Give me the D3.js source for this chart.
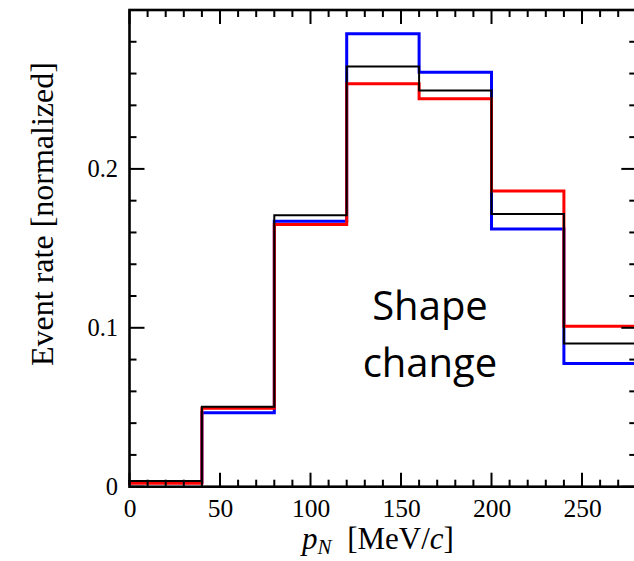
<!DOCTYPE html>
<html>
<head>
<meta charset="utf-8">
<script src="https://cdn.jsdelivr.net/npm/d3@7"></script>
<style>
  html, body { margin: 0; padding: 0; background: #fff; }
  svg { display: block; }
</style>
</head>
<body>
<svg id="chart" width="634" height="561"></svg>
<script>
// ---- data ----
const binEdges = [0, 40, 80, 120, 160, 200, 240, 280];
const blueValues  = [0.0028, 0.0465, 0.1670, 0.2850, 0.2609, 0.1622, 0.0776];
const redValues   = [0.0022, 0.0493, 0.1650, 0.2536, 0.2442, 0.1861, 0.1010];
const blackValues = [0.0036, 0.0503, 0.1708, 0.2645, 0.2494, 0.1716, 0.0901];
const xTickValues = [0, 50, 100, 150, 200, 250];
const yTickValues = [0, 0.1, 0.2];
const yTickLabels = ["0", "0.1", "0.2"];
const annotationLines = ["Shape", "change"];

// ---- layout ----
const svg = d3.select("#chart");
const pLeft = 129.5, pRight = 636.3, pTop = 10, pBottom = 486.7;
const x = d3.scaleLinear().domain([0, 280]).range([pLeft, pRight]);
const y = d3.scaleLinear().domain([0, 0.3]).range([pBottom, pTop]);

const serif = "'Liberation Serif', 'Times New Roman', serif";

// histogram step lines
function stepPoints(vals) {
  const pts = vals.map((v, i) => [binEdges[i], v]);
  pts.push([binEdges[binEdges.length - 1], vals[vals.length - 1]]);
  return pts;
}
const line = d3.line().x(d => x(d[0])).y(d => y(d[1])).curve(d3.curveStepAfter);

const series = [
  { vals: blueValues, color: "#0000ff", w: 3 },
  { vals: redValues, color: "#ff0000", w: 3 },
  { vals: blackValues, color: "#000000", w: 2 }
];
series.forEach(s => {
  svg.append("path")
    .attr("d", line(stepPoints(s.vals)))
    .attr("fill", "none")
    .attr("stroke", s.color)
    .attr("stroke-width", s.w)
    .attr("stroke-linejoin", "miter")
    .attr("stroke-linecap", "square");
});

// ---- axes (ticks inward, mirrored) ----
const xMajor = d3.range(0, 281, 50);
const xMinor = d3.range(0, 281, 10).filter(v => v % 50 !== 0);
const yMajor = [0, 0.1, 0.2, 0.3];
const yMinor = d3.range(0, 0.301, 0.02).filter(v => Math.abs(v * 10 - Math.round(v * 10)) > 1e-6);

const axG = svg.append("g").attr("stroke", "#000").attr("stroke-width", 2);
[[pBottom, -1], [pTop, 1]].forEach(([yy, dir]) => {
  xMajor.forEach(v => axG.append("line").attr("x1", x(v)).attr("x2", x(v)).attr("y1", yy).attr("y2", yy + dir * 14));
  xMinor.forEach(v => axG.append("line").attr("x1", x(v)).attr("x2", x(v)).attr("y1", yy).attr("y2", yy + dir * 7));
});
[[pLeft, 1], [pRight, -1]].forEach(([xx, dir]) => {
  yMajor.forEach(v => axG.append("line").attr("y1", y(v)).attr("y2", y(v)).attr("x1", xx).attr("x2", xx + dir * 15));
  yMinor.forEach(v => axG.append("line").attr("y1", y(v)).attr("y2", y(v)).attr("x1", xx).attr("x2", xx + dir * 7));
});
svg.append("rect")
  .attr("x", pLeft).attr("y", pTop)
  .attr("width", pRight - pLeft).attr("height", pBottom - pTop)
  .attr("fill", "none").attr("stroke", "#000").attr("stroke-width", 2.6);

// tick labels via d3 axes (lines hidden)
const xAxis = svg.append("g")
  .attr("transform", `translate(0,${pBottom})`)
  .call(d3.axisBottom(x).tickValues(xTickValues).tickSize(0).tickPadding(0));
xAxis.select(".domain").remove();
xAxis.selectAll("text")
  .attr("y", 30.5).attr("dy", null)
  .attr("font-family", serif).attr("font-size", 25.5).attr("fill", "#000");

const yAxis = svg.append("g")
  .call(d3.axisLeft(y).tickValues(yTickValues).tickFormat((d, i) => yTickLabels[i]).tickSize(0));
yAxis.select(".domain").remove();
yAxis.selectAll(".tick").attr("transform", d => `translate(0,${y(d)})`);
yAxis.selectAll("text")
  .attr("x", 118).attr("y", 8.5).attr("dy", null).attr("dx", null)
  .attr("text-anchor", "end")
  .attr("font-family", serif).attr("font-size", 24.5).attr("fill", "#000");

// axis titles
const xt = svg.append("text")
  .attr("x", 378).attr("y", 549)
  .attr("text-anchor", "middle")
  .attr("font-family", serif).attr("font-size", 31).attr("fill", "#000");
xt.append("tspan").attr("font-style", "italic").text("p");
xt.append("tspan").attr("font-style", "italic").attr("font-size", 21).attr("dy", 5).text("N");
xt.append("tspan").attr("dy", -5).text("\u2002[MeV/");
xt.append("tspan").attr("font-style", "italic").text("c");
xt.append("tspan").text("]");

svg.append("text")
  .attr("transform", "translate(53,214) rotate(-90)")
  .attr("text-anchor", "middle")
  .attr("font-family", serif).attr("font-size", 32).attr("fill", "#000")
  .text("Event rate [normalized]");

// annotation
const ann = svg.append("text")
  .attr("text-anchor", "middle")
  .attr("font-family", "'Open Sans', sans-serif").attr("font-size", 40).attr("fill", "#000");
annotationLines.forEach((t, i) => {
  ann.append("tspan").attr("x", 430).attr("y", 320 + i * 57).text(t);
});
</script>
</body>
</html>
